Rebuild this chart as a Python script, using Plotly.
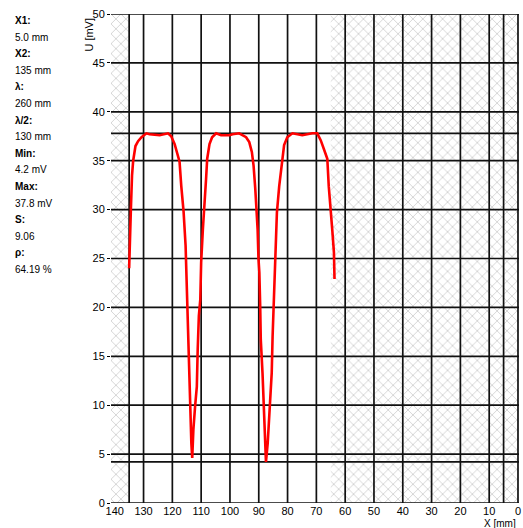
import plotly.graph_objects as go

# ---------------- data ----------------
pos_mm = [135.0, 134.7, 134.4, 134.0, 133.6, 132.8, 131.9, 130.7, 129.0, 127.9,
          124.4, 121.5, 120.4, 119.2, 118.1, 117.5, 116.9, 116.1, 115.4, 114.9,
          114.6, 114.3, 113.8, 113.4, 113.1, 112.7, 112.1, 111.5, 111.2, 110.8,
          110.3, 110.0, 109.4, 108.8, 108.3, 107.9, 107.1, 106.2, 104.8, 103.1,
          100.2, 99.1, 96.8, 94.4, 93.3, 92.4, 91.8, 91.2, 90.8, 90.4,
          90.1, 89.8, 89.5, 89.3, 88.7, 88.4, 88.1, 87.7, 87.5, 86.9,
          86.6, 86.1, 85.5, 85.2, 84.8, 84.3, 84.0, 83.7, 82.9, 82.0,
          81.2, 80.1, 78.3, 74.9, 71.4, 69.7, 68.5, 67.4, 66.2, 65.7,
          65.1, 64.5, 63.9, 63.7]
u_mv = [24.0, 28.0, 30.0, 33.5, 35.0, 36.5, 37.0, 37.4, 37.8, 37.7,
        37.6, 37.8, 37.5, 36.7, 35.5, 34.9, 32.4, 29.8, 26.3, 21.5,
        17.6, 13.6, 9.9, 6.1, 4.6, 7.5, 9.9, 11.9, 15.7, 19.1,
        20.8, 24.6, 28.0, 30.4, 33.1, 35.2, 36.7, 37.4, 37.8, 37.6,
        37.6, 37.7, 37.8, 37.4, 36.9, 35.9, 34.5, 32.1, 30.4, 28.0,
        25.0, 23.6, 20.1, 16.7, 13.3, 10.5, 8.8, 5.4, 4.2, 6.1,
        7.5, 9.9, 13.3, 17.0, 20.8, 23.9, 26.3, 29.7, 32.4, 35.0,
        36.6, 37.4, 37.8, 37.6, 37.8, 37.8, 37.1, 36.2, 35.2, 32.4,
        29.7, 28.0, 25.6, 22.9]

x1_mm = 5.0
x2_mm = 135.0
u_min = 4.2
u_max = 37.8
x_ticks = [140, 130, 120, 110, 100, 90, 80, 70, 60, 50, 40, 30, 20, 10, 0]
y_ticks = [0, 5, 10, 15, 20, 25, 30, 35, 40, 45, 50]
v_grid = [130, 120, 110, 100, 90, 80, 70, 60, 50, 40, 30, 20, 10, 0]
h_grid = [0, 5, 10, 15, 20, 25, 30, 35, 40, 45, 50]
stat_labels = ["X1:", "X2:", "λ:", "λ/2:", "Min:", "Max:", "S:", "ρ:"]
stat_values = ["5.0 mm", "135 mm", "260 mm", "130 mm", "4.2 mV", "37.8 mV", "9.06", "64.19 %"]

# ---------------- layout geometry ----------------
W, H = 523, 528
L, R, T, B = 111, 2, 14, 25
PW, PH = W - L - R, H - T - B
XMAX, XMIN = 141.3, -0.35
YMIN, YMAX = 0, 50

def px(xp):
    return (xp - L) / PW

def py(yp):
    return (H - B - yp) / PH

FONT = "Liberation Sans, Arial, sans-serif"
fig = go.Figure()

# hatched (out-of-range) regions
hatch = dict(shape="x", fgcolor="#a8a8a8", bgcolor="white", size=7, solidity=0.25)
for a, b in [(XMAX, x2_mm), (65.0, XMIN)]:
    fig.add_trace(go.Scatter(x=[a, b, b, a, a], y=[YMIN, YMIN, YMAX, YMAX, YMIN],
                             mode="lines", fill="toself", line=dict(width=0),
                             fillpattern=hatch, fillcolor="white",
                             hoverinfo="skip", showlegend=False))

# grid lines
gx, gy = [], []
for v in v_grid + [x1_mm, x2_mm]:
    gx += [v, v, None]
    gy += [YMIN, YMAX, None]
for h in h_grid + [u_min, u_max]:
    gx += [XMAX, XMIN, None]
    gy += [h, h, None]
fig.add_trace(go.Scatter(x=gx, y=gy, mode="lines", line=dict(color="#111111", width=1.7),
                         hoverinfo="skip", showlegend=False))

# measured curve
fig.add_trace(go.Scatter(x=pos_mm, y=u_mv, mode="lines",
                         line=dict(color="#ff0000", width=2.6),
                         showlegend=False))

fig.update_xaxes(range=[XMAX, XMIN], tickvals=x_ticks, ticktext=[str(t) for t in x_ticks],
                 showgrid=False, zeroline=False, showline=False, ticks="",
                 ticklabeloverflow="allow",
                 tickfont=dict(family=FONT, size=11, color="black"))
fig.update_yaxes(range=[YMIN, YMAX], tickvals=y_ticks, ticktext=[str(t) for t in y_ticks],
                 showgrid=False, zeroline=False, showline=False,
                 ticks="outside", ticklen=3, tickcolor="black", tickwidth=1,
                 tickfont=dict(family=FONT, size=11, color="black"))

annotations = []
y0, step = 20.5, 16.6
for i, (lab, val) in enumerate(zip(stat_labels, stat_values)):
    annotations.append(dict(x=px(13), y=py(y0 + 2 * i * step), xref="paper", yref="paper",
                            text="<b>" + lab + "</b>", showarrow=False, xanchor="left",
                            yanchor="middle", font=dict(family=FONT, size=10, color="black")))
    annotations.append(dict(x=px(13), y=py(y0 + (2 * i + 1) * step), xref="paper", yref="paper",
                            text=val, showarrow=False, xanchor="left",
                            yanchor="middle", font=dict(family=FONT, size=10, color="black")))
annotations.append(dict(x=px(88.5), y=py(35), xref="paper", yref="paper", text="U [mV]",
                        textangle=-90, showarrow=False, xanchor="center", yanchor="middle",
                        font=dict(family=FONT, size=11, color="black")))
annotations.append(dict(x=px(502), y=py(516), xref="paper", yref="paper", text="X [mm]",
                        showarrow=False, xanchor="center", yanchor="top",
                        font=dict(family=FONT, size=10, color="black")))

fig.update_layout(width=W, height=H, margin=dict(l=L, r=R, t=T, b=B, pad=0),
                  paper_bgcolor="white", plot_bgcolor="white",
                  annotations=annotations, showlegend=False)

fig.write_html("out.html")
